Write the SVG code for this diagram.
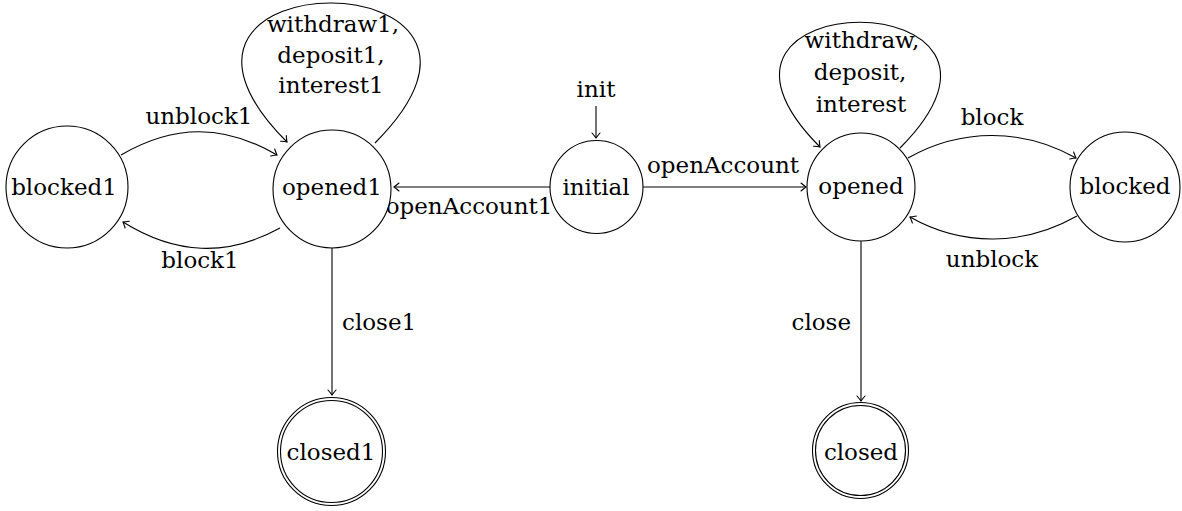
<svg xmlns="http://www.w3.org/2000/svg" width="1182" height="511" viewBox="0 0 1182 511" font-family="'DejaVu Serif', serif" font-size="23">
<style>
text{fill:#000;text-anchor:middle}
.n{fill:#fff;stroke:#000;stroke-width:1.1}
.e{fill:none;stroke:#000;stroke-width:1.1;marker-end:url(#arr)}
</style>
<defs>
<marker id="arr" markerUnits="userSpaceOnUse" viewBox="-7 -6 9 12" markerWidth="9" markerHeight="12" refX="0" refY="0" orient="auto" overflow="visible">
<path d="M-5,-4 Q-1.5,-1 0,0 Q-1.5,1 -5,4" fill="none" stroke="#000" stroke-width="1.1" stroke-linecap="round"/>
</marker>
</defs>
<rect width="1182" height="511" fill="#fff"/>
<g id="connectors">
<path class="e" d="M596,106 L596,138"/>
<text x="596" y="97">init</text>
<path class="e" d="M550,187 L394,187"/>
<text x="469" y="214">openAccount1</text>
<path class="e" d="M643,187 L806,187"/>
<text x="723" y="173">openAccount</text>
<path class="e" d="M375,143 C561,-43 101,-44 287,142"/>
<text x="333" y="32">withdraw1,</text>
<text x="331" y="63">deposit1,</text>
<text x="331" y="93">interest1</text>
<path class="e" d="M121,155 C174,124 224,124 277,155"/>
<text x="199" y="124">unblock1</text>
<path class="e" d="M280,228 C227,257 176,255 123,222"/>
<text x="200" y="268">block1</text>
<path class="e" d="M332,248 L332,395"/>
<text x="342" y="330" style="text-anchor:start">close1</text>
<path class="e" d="M900,148 C1067,-19 653,-20 820,147"/>
<text x="862" y="48">withdraw,</text>
<text x="860" y="80">deposit,</text>
<text x="861" y="112">interest</text>
<path class="e" d="M908,158 C961,128 1023,128 1076,158"/>
<text x="992" y="125">block</text>
<path class="e" d="M1077,216 C1024,246 963,247 910,217"/>
<text x="992" y="267">unblock</text>
<path class="e" d="M861,241 L861,401"/>
<text x="851" y="330" style="text-anchor:end">close</text>
</g>
<g id="blocked1"><circle class="n" cx="67" cy="187" r="61"/><text x="64" y="195">blocked1</text></g>
<g id="opened1"><circle class="n" cx="332" cy="189" r="59"/><text x="332" y="195">opened1</text></g>
<g id="initial"><circle class="n" cx="596.5" cy="187" r="46.5"/><text x="596" y="195">initial</text></g>
<g id="opened"><circle class="n" cx="861" cy="187" r="54"/><text x="861" y="194">opened</text></g>
<g id="blocked"><circle class="n" cx="1125" cy="187" r="55"/><text x="1125" y="194">blocked</text></g>
<g id="closed1"><circle class="n" cx="331.5" cy="451.5" r="54"/><circle class="n" cx="331.5" cy="451.5" r="51"/><text x="331" y="460">closed1</text></g>
<g id="closed"><circle class="n" cx="860.5" cy="450.5" r="48"/><circle class="n" cx="860.5" cy="450.5" r="45"/><text x="861" y="460">closed</text></g>
</svg>
